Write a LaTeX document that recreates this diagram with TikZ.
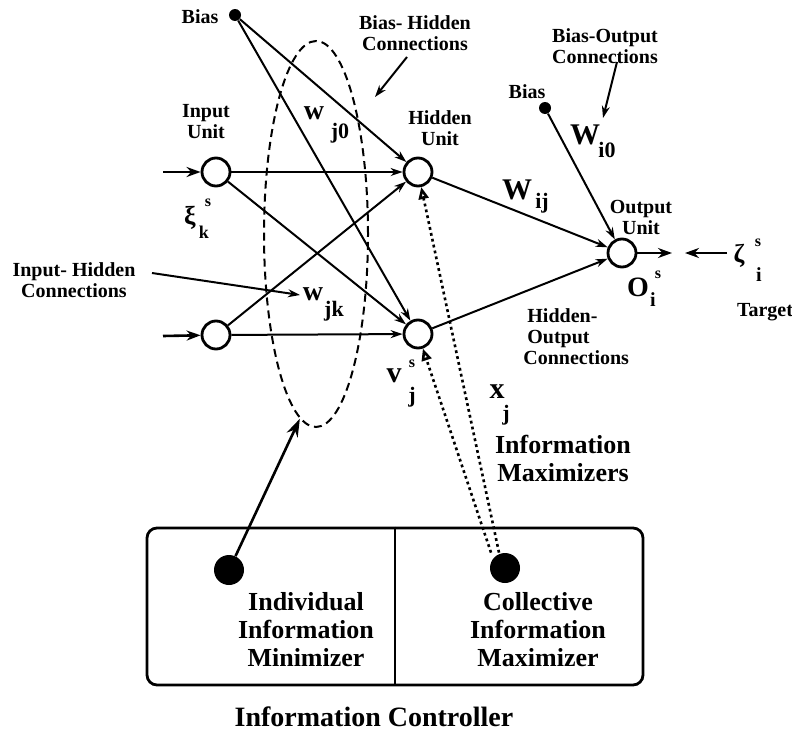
\documentclass[tikz,border=0pt]{standalone}
\usepackage{fontspec}
\setmainfont{Liberation Serif}
\usetikzlibrary{shapes.geometric,arrows.meta}
\begin{document}
\begin{tikzpicture}[x=0.5pt,y=-0.5pt,
  unit/.style={circle,draw,line width=1.4pt,minimum size=14pt,inner sep=0pt},
  bdot/.style={circle,fill,minimum size=6pt,inner sep=0pt},
  bigdot/.style={circle,fill,minimum size=15pt,inner sep=0pt},
  conn/.style={line width=1pt,-{Stealth[length=6pt,width=4pt]}},
  inarrow/.style={line width=1.3pt,-{Stealth[length=7pt,width=5pt]}},
  lbl/.style={font=\fontsize{10}{10.5}\selectfont\bfseries,align=center,inner sep=0pt},
  biglbl/.style={font=\fontsize{13}{14}\selectfont\bfseries,align=center,inner sep=0pt},
  mthw/.style={font=\fontsize{14}{14}\selectfont\bfseries,inner sep=0pt},
  mthW/.style={font=\fontsize{15}{15}\selectfont\bfseries,inner sep=0pt},
  mysub/.style={font=\fontsize{11}{11}\selectfont\bfseries,inner sep=0pt},
  mysup/.style={font=\fontsize{8}{8}\selectfont\bfseries,inner sep=0pt},
  dotarrow/.style={line width=1.3pt,dash pattern=on 1.4pt off 1.6pt,-{Triangle[open,length=6pt,width=5pt]}}
]
\useasboundingbox (0,0) rectangle (792,739);

% dashed ellipse
\node[draw,ellipse,dash pattern=on 4pt off 2.5pt,line width=1pt,minimum width=52pt,minimum height=193pt,inner sep=0pt] (ell) at (316,234) {};

% units
\node[unit] (i1) at (216,172) {};
\node[unit] (i2) at (216,335) {};
\node[unit] (h1) at (418,172) {};
\node[unit] (h2) at (418,334) {};
\node[unit] (o) at (622,253) {};
\node[bdot] (b1) at (235,15) {};
\node[bdot] (b2) at (545,108) {};

% controller box
\node[draw,rounded corners=5pt,line width=1.4pt,minimum width=248pt,minimum height=78.5pt,inner sep=0pt] (box) at (395,606.5) {};
\draw[line width=1pt] (box.north) -- (box.south);
\node[bigdot] (d1) at (229,570) {};
\node[bigdot] (d2) at (505,568) {};

% connections
\draw[conn] (i1) -- (h1);
\draw[conn] (i1) -- (h2);
\draw[conn] (i2) -- (h1);
\draw[conn] (i2) -- (h2);
\draw[conn] (b1) -- (h1);
\draw[conn] (b1) -- (h2);
\draw[conn] (h1) -- (o);
\draw[conn] (h2) -- (o);
\draw[conn] (b2) -- (o);

% input / output arrows
\coordinate (i1in) at (163,172);
\coordinate (i2in) at (163,336);
\coordinate (oout) at (672,253);
\coordinate (tgs) at (727,253);
\coordinate (tgt) at (685,253);
\draw[inarrow] (i1in) -- (i1);
\draw[inarrow] (i2in) -- (i2);
\draw[inarrow] (o) -- (oout);
\draw[inarrow] (tgs) -- (tgt);

% information maximizer dotted arrows
\draw[dotarrow] ([xshift=-3pt]d2.north) -- (h1);
\draw[dotarrow] ([xshift=-7pt]d2.north) -- (h2);

% minimizer arrow to ellipse
\draw[line width=1.3pt,-{Stealth[length=9pt,width=6pt]}] (d1) -- (ell.265);

% label arrows
\coordinate (bhs) at (407,57);
\coordinate (bht) at (375,97);
\coordinate (ihs) at (152,273);
\coordinate (iht) at (300,295);
\coordinate (bos) at (617,62);
\coordinate (bot) at (603,118);
\draw[conn] (bhs) -- (bht);
\draw[conn] (ihs) -- (iht);
\draw[conn] (bos) -- (bot);

% text labels
\node[lbl] (tb1) at (200,17) {Bias};
\node[lbl] (tbh) at (415,33) {Bias- Hidden\\Connections};
\node[lbl] (tiu) at (206,122) {Input\\Unit};
\node[lbl] (thu) at (440,128) {Hidden\\Unit};
\node[lbl] (tb2) at (527,92) {Bias};
\node[lbl] (tbo) at (605,46) {Bias-Output\\Connections};
\node[lbl] (tou) at (641,217) {Output\\Unit};
\node[lbl] (tih) at (74,280) {Input- Hidden\\Connections};
\node[lbl,align=left,anchor=west] (tho) at (523,337) {\hspace*{2pt}Hidden-\\\hspace*{2pt}Output\\Connections};
\node[lbl] (ttg) at (765,312) {Target};
\node[biglbl] (tim) at (563,458) {Information\\Maximizers};
\node[biglbl] (tiim) at (306,630) {Individual\\Information\\Minimizer};
\node[biglbl] (tcim) at (538,630) {Collective\\Information\\Maximizer};
\node[font=\fontsize{14}{14}\selectfont\bfseries,inner sep=0pt] (tic) at (374,717) {Information Controller};

% math labels
\node[mthw] (wj0) at (314,113) {w};
\node[mysub] (wj0s) at (340,133) {j0};
\node[mthW] (wij) at (517,190) {W};
\node[mysub] (wijs) at (542,203) {ij};
\node[mthW] (wi0) at (585,135) {W};
\node[mysub] (wi0s) at (607,150) {i0};
\node[mthw] (wjk) at (313,294) {w};
\node[mysub] (wjks) at (334,311) {jk};
\node[font=\fontsize{13}{13}\selectfont\bfseries,inner sep=0pt] (xi) at (190,218) {ξ};
\node[mysup] (xis) at (208,203) {s};
\node[font=\fontsize{9}{9}\selectfont\bfseries,inner sep=0pt] (xik) at (204,232) {k};
\node[mthW] (vv) at (394,376) {v};
\node[mysup] (vvs) at (412,364) {s};
\node[mysub] (vvj) at (412,397) {j};
\node[mthW] (xx) at (497,392) {x};
\node[mysub] (xxj) at (506,415) {j};
\node[font=\fontsize{14}{14}\selectfont\bfseries,inner sep=0pt] (oo) at (638,287) {O};
\node[mysup] (oos) at (658,275) {s};
\node[font=\fontsize{10}{10}\selectfont\bfseries,inner sep=0pt] (ooi) at (653,300) {i};
\node[font=\fontsize{13}{13}\selectfont\bfseries,inner sep=0pt] (zeta) at (739,256) {ζ};
\node[mysup] (zetas) at (758,243) {s};
\node[font=\fontsize{10}{10}\selectfont\bfseries,inner sep=0pt] (zetai) at (759,275) {i};
\end{tikzpicture}
\end{document}
